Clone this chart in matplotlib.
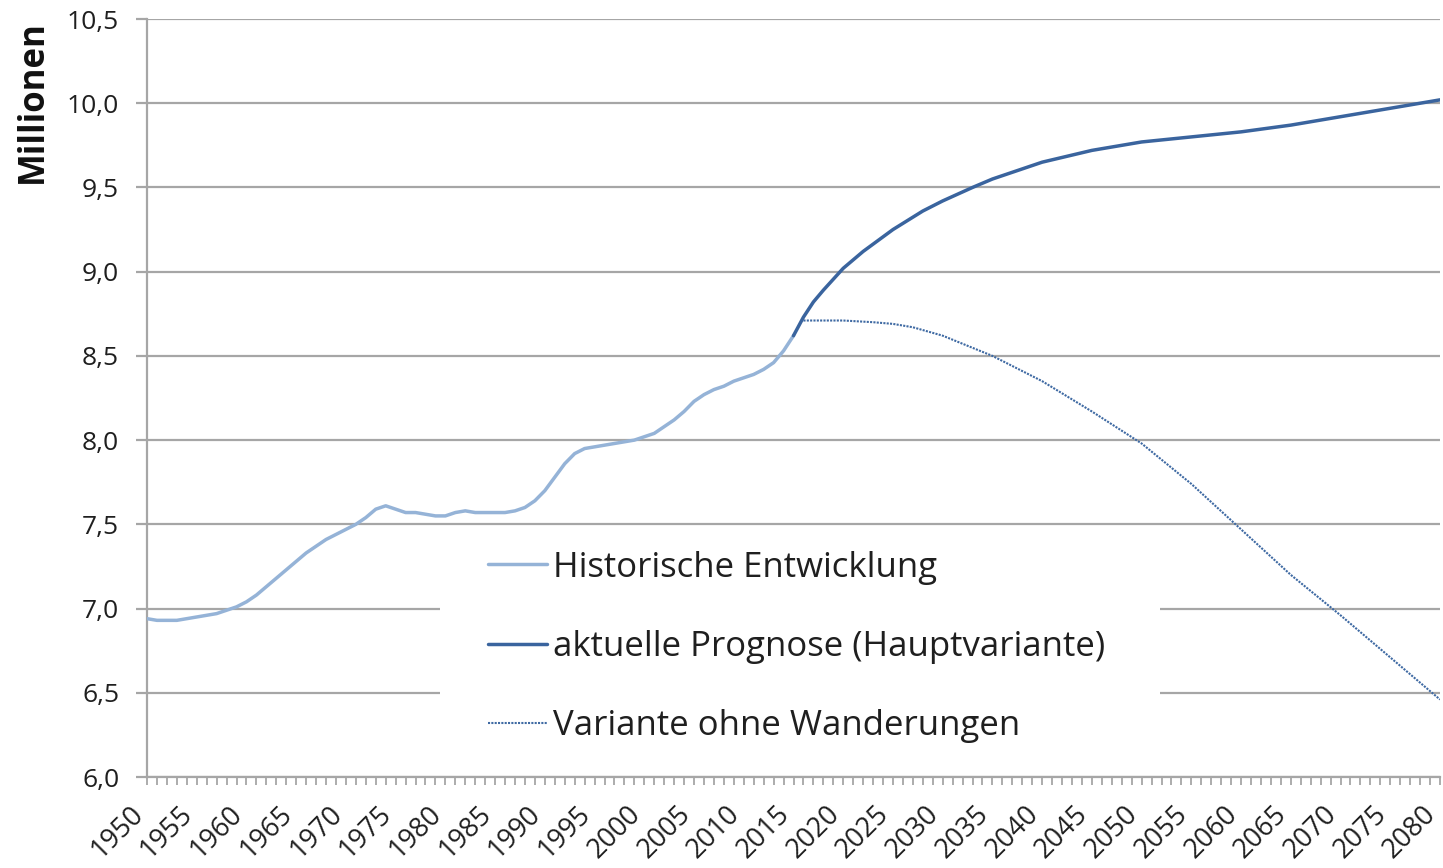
import matplotlib
matplotlib.use("Agg")
import matplotlib.pyplot as plt
from matplotlib.patches import Rectangle
from matplotlib.ticker import MultipleLocator, FuncFormatter
from matplotlib.transforms import ScaledTranslation

plt.rcParams['font.family'] = ['Open Sans', 'DejaVu Sans']

# Historical development (1950-2015), millions
hist_years = list(range(1950, 2016))
hist_values = [6.94, 6.93, 6.93, 6.93, 6.94, 6.95, 6.96, 6.97, 6.99, 7.01,
               7.04, 7.08, 7.13, 7.18, 7.23, 7.28, 7.33, 7.37, 7.41, 7.44,
               7.47, 7.50, 7.54, 7.59, 7.61, 7.59, 7.57, 7.57, 7.56, 7.55,
               7.55, 7.57, 7.58, 7.57, 7.57, 7.57, 7.57, 7.58, 7.60, 7.64,
               7.70, 7.78, 7.86, 7.92, 7.95, 7.96, 7.97, 7.98, 7.99, 8.00,
               8.02, 8.04, 8.08, 8.12, 8.17, 8.23, 8.27, 8.30, 8.32, 8.35,
               8.37, 8.39, 8.42, 8.46, 8.53, 8.62]

# Main forecast variant
main_years = [2015, 2016, 2017, 2018, 2020, 2022, 2025, 2028, 2030, 2033, 2035,
              2040, 2045, 2050, 2055, 2060, 2065, 2070, 2075, 2080]
main_values = [8.62, 8.73, 8.82, 8.89, 9.02, 9.12, 9.25, 9.36, 9.42, 9.50, 9.55,
               9.65, 9.72, 9.77, 9.80, 9.83, 9.87, 9.92, 9.97, 10.02]

# Variant without migration
var_years = [2016, 2018, 2020, 2023, 2025, 2027, 2030, 2035, 2040, 2045, 2050,
             2055, 2060, 2065, 2070, 2075, 2080]
var_values = [8.71, 8.71, 8.71, 8.70, 8.69, 8.67, 8.62, 8.50, 8.35, 8.17, 7.98,
              7.74, 7.47, 7.20, 6.96, 6.71, 6.46]

labels = ["Historische Entwicklung",
          "aktuelle Prognose (Hauptvariante)",
          "Variante ohne Wanderungen"]

W, H = 1443, 868
fig = plt.figure(figsize=(W / 100, H / 100), dpi=100)
ax = fig.add_axes([147 / W, 1 - 777 / H, (1440 - 147) / W, (777 - 19) / H])

grid_c = '#a6a6a6'
text_c = '#1f1f1f'
ax.set_axisbelow(True)
ax.yaxis.grid(True, color=grid_c, linewidth=1.6)
ax.set_xlim(1950, 2080)
ax.set_ylim(6.0, 10.5)

ax.plot(hist_years, hist_values, color='#95b3d7', linewidth=2.5,
        solid_capstyle='round', solid_joinstyle='round', label=labels[0], zorder=3)
ax.plot(main_years, main_values, color='#3a649e', linewidth=2.5,
        solid_capstyle='round', solid_joinstyle='round', label=labels[1], zorder=4)
ax.plot(var_years, var_values, color='#3f6aa3', linewidth=1.5,
        linestyle=(0, (1, 0.6)), label=labels[2], zorder=4)

for s in ['top', 'right']:
    ax.spines[s].set_visible(False)
for s in ['left', 'bottom']:
    ax.spines[s].set_color(grid_c)
    ax.spines[s].set_linewidth(1.6)

ax.yaxis.set_major_locator(MultipleLocator(0.5))
ax.yaxis.set_major_formatter(FuncFormatter(lambda v, p: f"{v:.1f}".replace('.', ',')))
ax.tick_params(axis='y', length=8, width=1.6, color=grid_c, labelsize=19,
               labelcolor=text_c, pad=12)

ax.xaxis.set_major_locator(MultipleLocator(5))
ax.xaxis.set_minor_locator(MultipleLocator(1))
ax.tick_params(axis='x', which='both', length=6, width=1.3, color=grid_c,
               labelsize=19.5, labelcolor=text_c, pad=11)
shift = ScaledTranslation(2 / 100, 0, fig.dpi_scale_trans)
for lab in ax.get_xticklabels():
    lab.set_rotation(45)
    lab.set_ha('right')
    lab.set_va('top')
    lab.set_rotation_mode('default')
    lab.set_transform(lab.get_transform() + shift)

# legend background (hides gridlines behind the legend)
ax.add_patch(Rectangle((440 / W, 1 - 762 / H), 720 / W, 228 / H,
                       transform=fig.transFigure, facecolor='white',
                       edgecolor='none', zorder=1))

leg = ax.legend(loc='center left', bbox_to_anchor=(488 / W, 1 - 647 / H),
                bbox_transform=fig.transFigure, frameon=False, fontsize=25,
                handlelength=1.7, handletextpad=0.17, labelspacing=1.31,
                borderpad=0, borderaxespad=0)
for t in leg.get_texts():
    t.set_color(text_c)

fig.text(33 / W, 1 - 20 / H, "Millionen", rotation=90, ha='center', va='top',
         fontsize=25, fontweight='bold', color='#111111')

fig.savefig('out.png', dpi=100)
